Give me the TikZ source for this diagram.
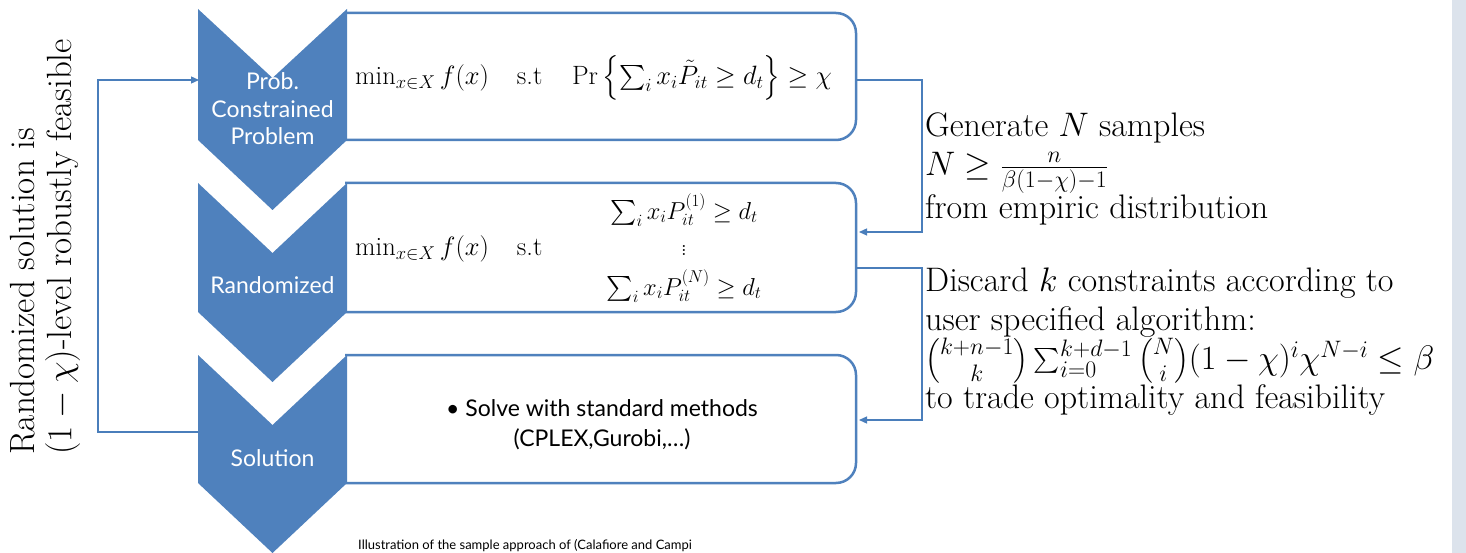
\RequirePackage{fix-cm}
\documentclass[tikz,border=0pt]{standalone}
\usepackage{amsmath}
\usepackage{fontspec}
\newfontfamily\gill{Lato}
\usetikzlibrary{arrows.meta}
\definecolor{accent}{HTML}{4F81BD}
\definecolor{wire}{HTML}{4A7EBB}
\definecolor{band}{HTML}{DCE3EC}

\begin{document}
\begin{tikzpicture}[x=1pt,y=-1pt,
  chev/.style={fill=accent},
  panel/.style={draw=accent, line width=2.5pt, rounded corners=20pt, fill=white},
  link/.style={draw=wire, line width=1.3pt, -{Triangle[length=8pt,width=7pt]}},
  stagelabel/.style={text=white, font=\gill\fontsize{23}{27.5}\selectfont, align=center, inner sep=0pt},
  mathtxt/.style={font=\fontsize{26.5}{30}\selectfont, inner sep=0pt},
  rowtxt/.style={font=\fontsize{24.5}{28}\selectfont, inner sep=0pt},
  note/.style={font=\fontsize{34}{39}\selectfont, align=left, inner sep=0pt},
  body/.style={font=\gill\fontsize{23}{30}\selectfont, align=center, inner sep=0pt}]

% canvas and side band
\useasboundingbox (0,0) rectangle (1466,553);
\fill[white] (0,0) rectangle (1466,553);
\fill[band] (1452,0) rectangle (1466,553);

% content panels (left edge hidden under the chevrons)
\draw[panel] (345,13) -| (856,140) -- (345,140);
\draw[panel] (345,183) -| (856,312) -- (345,312);
\draw[panel] (345,355) -| (856,483) -- (345,483);

% process chevrons
\fill[chev] (198,9) -- (272.5,78) -- (347,9) -- (347,140) -- (272.5,210) -- (198,140) -- cycle;
\fill[chev] (198,183) -- (272.5,253) -- (347,183) -- (347,312) -- (272.5,382) -- (198,312) -- cycle;
\fill[chev] (198,355) -- (272.5,425) -- (347,355) -- (347,483) -- (272.5,553) -- (198,483) -- cycle;

% stage labels (base anchor = baseline of the last line)
\node[stagelabel, anchor=base] (s1) at (272.5,145) {Prob.\\Constrained\\Problem};
\node[stagelabel, anchor=base] (s2) at (272.5,293) {Randomized};
\node[stagelabel, anchor=base] (s3) at (272.5,466) {Solution};

% panel contents
\node[mathtxt, anchor=west] (m1) at (355,78)
  {$\min_{x\in X} f(x)\hspace{1.05em}\text{s.t}\hspace{0.95em}\Pr\left\{\sum_i x_i\tilde{P}_{it}\ge d_t\right\}\ge\chi$};
\node[mathtxt, anchor=west] (m2) at (355,249) {$\min_{x\in X} f(x)\hspace{1.05em}\text{s.t}$};
\node[rowtxt] (r1) at (684,210) {$\sum_i x_i P_{it}^{(1)}\ge d_t$};
\node[rowtxt] (rd) at (684,247) {$\vdots$};
\node[rowtxt] (rn) at (684,286) {$\sum_i x_i P_{it}^{(N)}\ge d_t$};
\node[body, anchor=base] (solve) at (602,446) {\textbullet\ Solve with standard methods\\(CPLEX,Gurobi,…)};

% side notes
\node[note, anchor=north west] (gen) at (925,113)
  {Generate $N$ samples\\$N\ge\frac{n}{\beta(1-\chi)-1}$\\from empiric distribution};
\node[note, anchor=north west] (disc) at (925,268)
  {Discard $k$ constraints according to\\user specified algorithm:\\
   $\binom{k+n-1}{k}\sum_{i=0}^{k+d-1}\binom{N}{i}(1-\chi)^i\chi^{N-i}\le\beta$\\
   to trade optimality and feasibility};
\node[note, font=\fontsize{35}{37}\selectfont, rotate=90, anchor=north west] (verdict) at (10,455)
  {Randomized solution is\\$(1-\chi)$-level robustly feasible};
\node[font=\gill\fontsize{13}{15}\selectfont, anchor=base west, inner sep=0pt] (cap) at (358,549)
  {Illustration of the sample approach of (Calafiore and Campi};

% connector end points
\coordinate (p1out) at (856,80);
\coordinate (p2in) at (859,232);
\coordinate (p2out) at (856,268);
\coordinate (p3in) at (859,420);
\coordinate (c3w) at (198,432);
\coordinate (c1w) at (199,80);

% connectors
\draw[link] (p1out) -- ++(66,0) |- (p2in);
\draw[link] (p2out) -- ++(66,0) |- (p3in);
\draw[link] (c3w) -- ++(-100,0) |- (c1w);
\end{tikzpicture}
\end{document}
